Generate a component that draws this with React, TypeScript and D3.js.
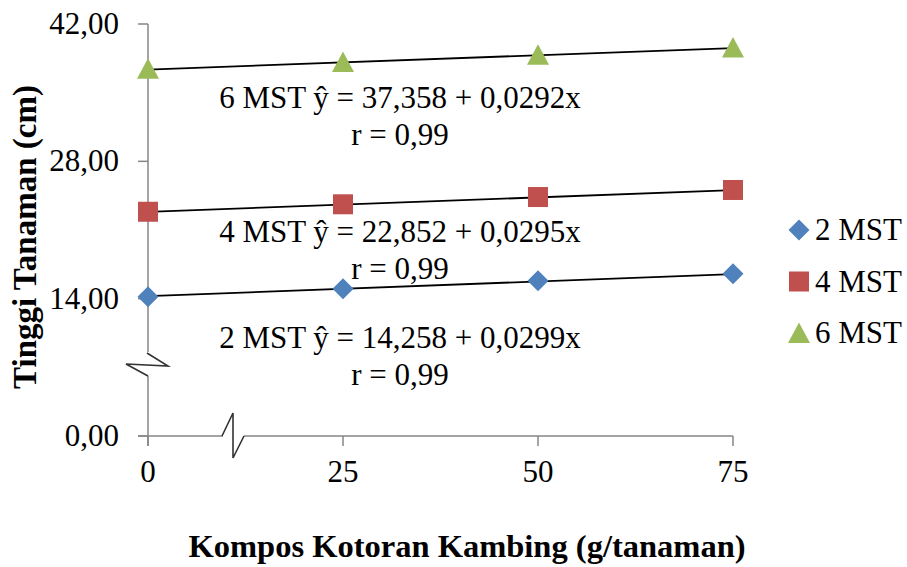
import React from "react";
import * as d3 from "d3";

// Dosage levels of goat-manure compost (g/plant)
const doses = [0, 25, 50, 75];

// Mean plant height (cm) per week after planting
const mst2 = [14.2, 15.02, 15.82, 16.53];
const mst4 = [22.86, 23.62, 24.36, 25.08];
const mst6 = [37.43, 38.12, 38.87, 39.6];

// Linear regression coefficients (intercept, slope) and labels
const seriesNames = ["2 MST", "4 MST", "6 MST"];
const intercepts = [14.258, 22.852, 37.358];
const slopes = [0.0299, 0.0295, 0.0292];
const equationLabels = [
  "2 MST ŷ = 14,258 + 0,0299x",
  "4 MST ŷ = 22,852 + 0,0295x",
  "6 MST ŷ = 37,358 + 0,0292x",
];
const rLabels = ["r = 0,99", "r = 0,99", "r = 0,99"];

const yTicks = [0, 14, 28, 42];
const xTicks = [0, 25, 50, 75];

const colors = ["#4F81BD", "#C0504D", "#9BBB59"];
const FONT = "Liberation Serif";

const W = 907;
const H = 567;

const x = d3.scaleLinear().domain([0, 75]).range([148, 733]);
const y = d3.scaleLinear().domain([0, 42]).range([436, 24]);

function Marker({ kind, cx, cy, color }: { kind: number; cx: number; cy: number; color: string }) {
  if (kind === 0) {
    const r = 10.5;
    return <path d={`M${cx},${cy - r}L${cx + r},${cy}L${cx},${cy + r}L${cx - r},${cy}Z`} fill={color} />;
  }
  if (kind === 1) {
    return <rect x={cx - 10} y={cy - 10} width={20} height={20} fill={color} />;
  }
  return <path d={`M${cx},${cy - 10.5}L${cx + 11},${cy + 10}L${cx - 11},${cy + 10}Z`} fill={color} />;
}

const txt = { fontFamily: FONT };

export default function App() {
  const series = [mst2, mst4, mst6];
  const eqCenterX = 400;
  const eqBaselines = [348, 242, 108];

  const axisColor = "#868686";
  const tick = 10;

  return (
    <svg
      width={W}
      height={H}
      style={{ position: "absolute", left: 0, top: 0, background: "#fff", fontFamily: FONT }}
    >
      <rect width={W} height={H} fill="#fff" />

      {/* y axis */}
      <line x1={x(0)} x2={x(0)} y1={y(42)} y2={y(0) + tick} stroke={axisColor} strokeWidth={1.5} />
      {yTicks.map((t) => (
        <g key={t}>
          <line x1={x(0) - tick} x2={x(0)} y1={y(t)} y2={y(t)} stroke={axisColor} strokeWidth={1.5} />
          <text x={x(0) - 29} y={y(t) + 10} textAnchor="end" fontSize={31} fill="#000" style={txt}>
            {d3.format(".2f")(t).replace(".", ",")}
          </text>
        </g>
      ))}

      {/* x axis */}
      <line x1={x(0) - tick} x2={x(75)} y1={y(0)} y2={y(0)} stroke={axisColor} strokeWidth={1.5} />
      {xTicks.map((t) => (
        <g key={t}>
          <line x1={x(t)} x2={x(t)} y1={y(0)} y2={y(0) + tick} stroke={axisColor} strokeWidth={1.5} />
          <text x={x(t)} y={y(0) + 46} textAnchor="middle" fontSize={31} fill="#000" style={txt}>
            {t}
          </text>
        </g>
      ))}

      {/* axis break on y */}
      <rect x={122} y={352} width={60} height={24} fill="#fff" />
      <path d="M147,353 L168,366 L126,364 L148,376" fill="none" stroke="#333" strokeWidth={1.6} />
      {/* axis break on x */}
      <rect x={223} y={410} width={21} height={50} fill="#fff" />
      <path d="M222,436 L233,413 L233,458 L244,436" fill="none" stroke="#333" strokeWidth={1.6} />

      {/* trend lines */}
      {intercepts.map((b, i) => (
        <line
          key={`t${i}`}
          x1={x(0)}
          x2={x(75)}
          y1={y(b)}
          y2={y(b + slopes[i] * 75)}
          stroke="#000"
          strokeWidth={1.8}
        />
      ))}

      {/* data points */}
      {series.map((vals, si) =>
        vals.map((v, i) => (
          <Marker key={`${si}-${i}`} kind={si} cx={x(doses[i])} cy={y(v)} color={colors[si]} />
        ))
      )}

      {/* regression equations */}
      {equationLabels.map((lab, i) => (
        <g key={`e${i}`}>
          <text x={eqCenterX} y={eqBaselines[i]} textAnchor="middle" fontSize={31} fill="#000" style={txt}>
            {lab}
          </text>
          <text x={eqCenterX} y={eqBaselines[i] + 37} textAnchor="middle" fontSize={31} fill="#000" style={txt}>
            {rLabels[i]}
          </text>
        </g>
      ))}

      {/* legend */}
      {seriesNames.map((name, i) => {
        const cy = 230 + i * 51.5;
        return (
          <g key={name}>
            <Marker kind={i} cx={799} cy={cy} color={colors[i]} />
            <text x={815} y={cy + 10} fontSize={31} fill="#000" style={txt}>
              {name}
            </text>
          </g>
        );
      })}

      {/* axis titles */}
      <text x={467} y={557} textAnchor="middle" fontSize={32.5} fontWeight="bold" fill="#000" style={txt}>
        Kompos Kotoran Kambing (g/tanaman)
      </text>
      <text
        transform="translate(36,237) rotate(-90)"
        textAnchor="middle"
        fontSize={33}
        fontWeight="bold"
        fill="#000"
        style={txt}
      >
        Tinggi Tanaman (cm)
      </text>
    </svg>
  );
}
